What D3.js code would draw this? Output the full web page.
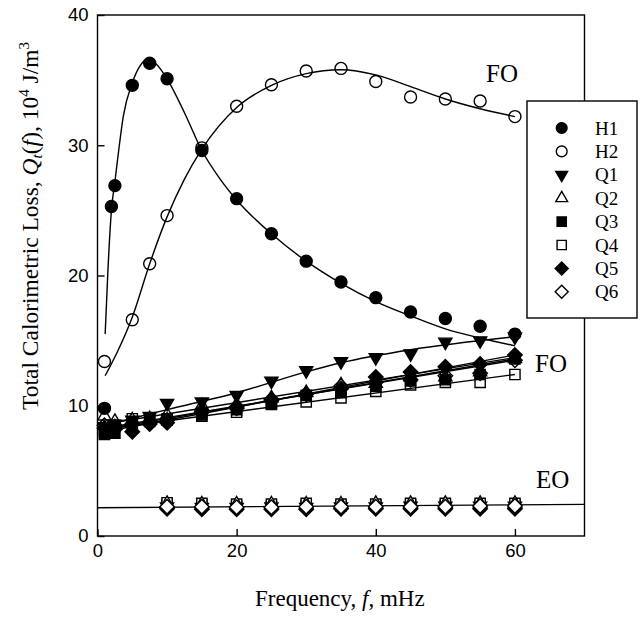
<!DOCTYPE html>
<html><head><meta charset="utf-8">
<script src="https://cdn.jsdelivr.net/npm/d3@7"></script>
<style>body{margin:0;background:#fff}svg{display:block}</style>
</head><body><svg id="c" width="641" height="618"></svg>
<script>
// ---------- data ----------
const seriesNames = ["H1", "H2", "Q1", "Q2", "Q3", "Q4", "Q5", "Q6"];
const xH1 = [1, 2, 2.5, 5, 7.5, 10, 15, 20, 25, 30, 35, 40, 45, 50, 55, 60];
const yH1 = [9.8, 25.3, 26.9, 34.6, 36.3, 35.1, 29.6, 25.9, 23.2, 21.1, 19.5, 18.3, 17.2, 16.7, 16.1, 15.5];
const xH2 = [1, 5, 7.5, 10, 15, 20, 25, 30, 35, 40, 45, 50, 55, 60];
const yH2 = [13.4, 16.6, 20.9, 24.6, 29.8, 33.0, 34.65, 35.7, 35.9, 34.9, 33.7, 33.55, 33.4, 32.2];
const xFO = [1, 2.5, 5, 7.5, 10, 15, 20, 25, 30, 35, 40, 45, 50, 55, 60];
const yQ1 = [8.4, 8.6, 8.9, 9.2, 10.2, 10.3, 10.8, 11.9, 12.7, 13.4, 13.7, 14.0, 14.9, 15.0, 15.3];
const yQ2 = [9.2, 8.8, 8.9, 9.0, 9.3, 10.0, 10.1, 10.6, 11.0, 11.6, 11.7, 12.2, 12.2, 12.6, 13.6];
const yQ3 = [7.8, 7.9, 8.4, 8.8, 8.9, 9.3, 9.7, 10.2, 10.8, 11.0, 11.5, 11.9, 12.0, 12.4, 13.6];
const yQ4 = [8.0, 8.5, 9.0, 8.9, 9.0, 9.2, 9.5, 10.1, 10.3, 10.6, 11.1, 11.6, 11.8, 11.8, 12.4];
const yQ5 = [8.3, 8.2, 8.0, 8.6, 8.7, 9.6, 9.8, 10.5, 10.9, 11.3, 12.2, 12.6, 13.0, 13.2, 13.9];
const yQ6 = [8.5, 8.4, 8.6, 8.7, 8.9, 9.5, 9.9, 10.4, 10.9, 11.5, 11.8, 12.0, 12.3, 12.5, 13.5];
const xEO = [10, 15, 20, 25, 30, 35, 40, 45, 50, 55, 60];
const yEOQ1 = [2.25, 2.2, 2.2, 2.25, 2.2, 2.25, 2.25, 2.3, 2.3, 2.3, 2.3];
const yEOQ2 = [2.5, 2.45, 2.45, 2.45, 2.45, 2.45, 2.5, 2.5, 2.5, 2.5, 2.5];
const yEOQ3 = [2.4, 2.4, 2.3, 2.3, 2.35, 2.3, 2.35, 2.35, 2.35, 2.35, 2.4];
const yEOQ4 = [2.55, 2.5, 2.45, 2.45, 2.5, 2.45, 2.45, 2.5, 2.5, 2.5, 2.5];
const yEOQ5 = [2.1, 2.05, 2.05, 2.05, 2.05, 2.1, 2.1, 2.1, 2.1, 2.1, 2.1];
const yEOQ6 = [2.25, 2.25, 2.2, 2.2, 2.25, 2.25, 2.25, 2.25, 2.25, 2.3, 2.3];
// fitted curves
const fitH1x = [1.1, 1.5, 2, 2.5, 3, 3.7, 5, 6, 7.3, 8.5, 10, 12.5, 15, 17.5, 20, 25, 30, 35, 40, 45, 50, 55, 60];
const fitH1y = [15.5, 20.4, 25.0, 27.2, 29.4, 32.2, 34.8, 36.0, 36.6, 36.2, 35.1, 32.5, 29.6, 27.5, 25.8, 23.2, 21.1, 19.4, 18.0, 16.9, 15.9, 15.2, 14.6];
const fitH2x = [1.1, 3, 5, 7.5, 10, 12.5, 15, 20, 25, 30, 35, 40, 45, 50, 55, 60];
const fitH2y = [12.3, 14.3, 16.8, 20.9, 24.5, 27.4, 29.7, 32.9, 34.6, 35.5, 35.8, 35.4, 34.5, 33.55, 32.8, 32.2];
const fitQ1x = [1, 10, 20, 30, 35, 45, 60];
const fitQ1y = [8.5, 9.7, 11.0, 12.6, 13.3, 14.3, 15.3];
const fitQx = [1, 60];
const fitQ2y = [8.6, 13.7];
const fitQ3y = [8.2, 13.6];
const fitQ4y = [8.2, 12.4];
const fitQ5y = [8.0, 13.9];
const fitQ6y = [8.3, 13.5];
const fitEOx = [0, 70];
const fitEOy = [2.17, 2.43];
const xTicks = [0, 20, 40, 60];
const yTicks = [0, 10, 20, 30, 40];
const regionLabels = ["FO", "FO", "EO"];

// ---------- chart ----------
const svg = d3.select("#c");
const x = d3.scaleLinear().domain([0, 70]).range([97.5, 584.5]);
const y = d3.scaleLinear().domain([0, 40]).range([536, 15]);
const SANS = "'Liberation Sans', Arial, sans-serif";
const SERIF = "'Liberation Serif', 'Times New Roman', serif";

const zip = (xs, ys) => xs.map((v, i) => [v, ys[i]]);
const line = d3.line().x(d => x(d[0])).y(d => y(d[1]));
const smooth = d3.line().x(d => x(d[0])).y(d => y(d[1])).curve(d3.curveMonotoneX);

const gl = svg.append("g").attr("fill", "none").attr("stroke", "#000").attr("stroke-width", 1.4);
gl.append("path").attr("d", smooth(zip(fitH1x, fitH1y)));
gl.append("path").attr("d", smooth(zip(fitH2x, fitH2y)));
gl.append("path").attr("d", smooth(zip(fitQ1x, fitQ1y)));
[fitQ2y, fitQ3y, fitQ4y, fitQ5y, fitQ6y].forEach(ys => gl.append("path").attr("d", line(zip(fitQx, ys))));
gl.append("path").attr("d", line(zip(fitEOx, fitEOy)));

// markers
const symTypes = {
  H1: "circleF", H2: "circleO", Q1: "triD", Q2: "triU", Q3: "sqF", Q4: "sqO", Q5: "diaF", Q6: "diaO"
};
function sym(g, t, cx, cy, s, openFill) {
  s = s || 1;
  const filled = t.endsWith("F") || t === "triD";
  let el;
  if (t.startsWith("circle")) {
    el = g.append("circle").attr("cx", cx).attr("cy", cy).attr("r", 6 * s);
  } else if (t.startsWith("tri")) {
    el = g.append("path").attr("d", d3.symbol(d3.symbolTriangle, 75 * s * s)())
      .attr("transform", `translate(${cx},${cy})` + (t === "triD" ? " rotate(180)" : ""));
  } else if (t.startsWith("sq")) {
    el = g.append("path").attr("d", d3.symbol(d3.symbolSquare, 105 * s * s)())
      .attr("transform", `translate(${cx},${cy})`);
  } else {
    el = g.append("path").attr("d", d3.symbol(d3.symbolSquare, 105 * s * s)())
      .attr("transform", `translate(${cx},${cy}) rotate(45)`);
  }
  el.attr("fill", filled ? "#000" : (openFill || "none")).attr("stroke", "#000").attr("stroke-width", 1.4);
}
const gm = svg.append("g");
const pts = [
  ["H1", xH1, yH1], ["H2", xH2, yH2],
  ["Q1", xFO, yQ1], ["Q2", xFO, yQ2], ["Q3", xFO, yQ3], ["Q4", xFO, yQ4], ["Q5", xFO, yQ5], ["Q6", xFO, yQ6]
];
pts.forEach(([n, xs, ys]) => xs.forEach((v, i) => sym(gm, symTypes[n], x(v), y(ys[i]))));
// EO: filled markers underneath, open markers on top
const ptsEO = [
  ["Q5", xEO, yEOQ5], ["Q3", xEO, yEOQ3], ["Q1", xEO, yEOQ1],
  ["Q4", xEO, yEOQ4], ["Q2", xEO, yEOQ2], ["Q6", xEO, yEOQ6]
];
ptsEO.forEach(([n, xs, ys]) => xs.forEach((v, i) => sym(gm, symTypes[n], x(v), y(ys[i]), 1, "#fff")));

// frame
svg.append("rect").attr("x", x(0)).attr("y", y(40)).attr("width", x(70) - x(0)).attr("height", y(0) - y(40))
  .attr("fill", "none").attr("stroke", "#000").attr("stroke-width", 1.4);

// axes
const ax = svg.append("g").attr("transform", `translate(0,${y(0)})`)
  .call(d3.axisBottom(x).tickValues(xTicks).tickFormat(d3.format("d")).tickSizeInner(-7).tickSizeOuter(0).tickPadding(8));
const ay = svg.append("g").attr("transform", `translate(${x(0)},0)`)
  .call(d3.axisLeft(y).tickValues(yTicks).tickFormat(d3.format("d")).tickSizeInner(-7).tickSizeOuter(0).tickPadding(9));
[ax, ay].forEach(a => {
  a.select(".domain").remove();
  a.selectAll("line").attr("stroke", "#000").attr("stroke-width", 1.4);
  a.selectAll("text").attr("font-family", SANS).attr("font-size", 18.5).attr("fill", "#000");
});

// region labels
const lab = svg.append("g").attr("font-family", SERIF).attr("font-size", 25).attr("fill", "#000");
lab.append("text").attr("x", 486).attr("y", 82).text(regionLabels[0]);
lab.append("text").attr("x", 535).attr("y", 372).text(regionLabels[1]);
lab.append("text").attr("x", 536).attr("y", 488).text(regionLabels[2]);

// axis titles
const xt = svg.append("text").attr("x", 255).attr("y", 606).attr("font-family", SERIF).attr("font-size", 23);
xt.append("tspan").text("Frequency, ");
xt.append("tspan").attr("font-style", "italic").text("f");
xt.append("tspan").text(", mHz");

const yt = svg.append("text").attr("transform", "translate(37.5,410) rotate(-90)").attr("font-family", SERIF).attr("font-size", 23.5);
yt.append("tspan").text("Total Calorimetric Loss, ");
yt.append("tspan").attr("font-style", "italic").text("Q");
yt.append("tspan").attr("font-style", "italic").attr("font-size", 15).attr("dy", 4).text("t");
yt.append("tspan").attr("dy", -4).text("(");
yt.append("tspan").attr("font-style", "italic").text("f");
yt.append("tspan").text("), 10");
yt.append("tspan").attr("font-size", 15).attr("dy", -9).text("4");
yt.append("tspan").attr("dy", 9).text(" J/m");
yt.append("tspan").attr("font-size", 15).attr("dy", -9).text("3");

// legend
const lg = svg.append("g");
lg.append("rect").attr("x", 527).attr("y", 101).attr("width", 110).attr("height", 217)
  .attr("fill", "#fff").attr("stroke", "#000").attr("stroke-width", 1.4);
seriesNames.forEach((n, i) => {
  const cy = 128 + i * 23.4;
  sym(lg, symTypes[n], 561.7, cy, 0.9);
  lg.append("text").attr("x", 595).attr("y", cy + 6.5).attr("font-family", SERIF).attr("font-size", 19).text(n);
});
</script></body></html>
